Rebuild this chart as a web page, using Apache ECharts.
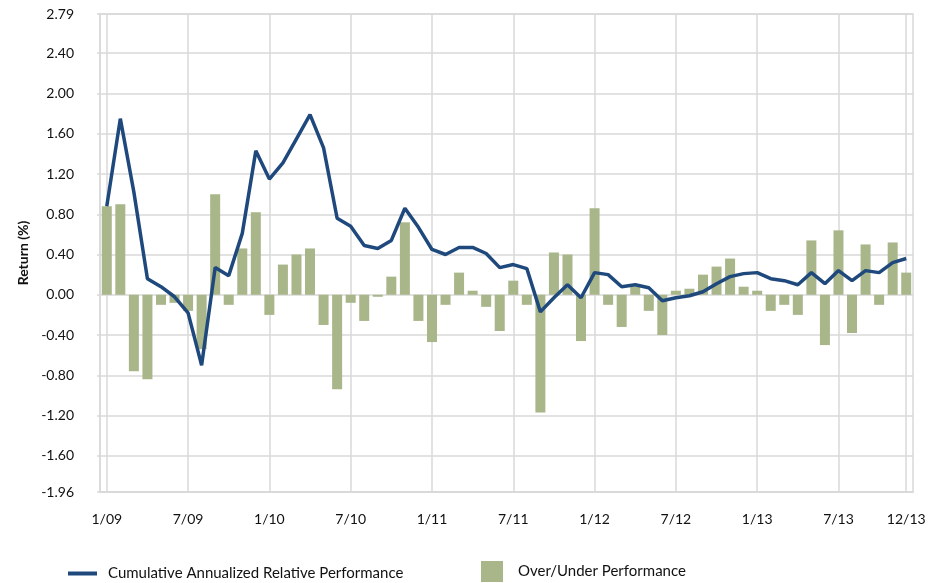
<!DOCTYPE html>
<html>
<head>
<meta charset="utf-8">
<title>Relative Performance</title>
<script src="https://cdn.jsdelivr.net/npm/echarts@6/dist/echarts.min.js"></script>
<style>
  html, body { margin: 0; padding: 0; background: #fff; }
  #chart { width: 947px; height: 583px; }
</style>
</head>
<body>
<div id="chart"></div>
<script>
// months 1/09 .. 12/13
const months = [
  '1/09', '2/09', '3/09', '4/09', '5/09', '6/09', '7/09', '8/09', '9/09', '10/09', '11/09', '12/09',
  '1/10', '2/10', '3/10', '4/10', '5/10', '6/10', '7/10', '8/10', '9/10', '10/10', '11/10', '12/10',
  '1/11', '2/11', '3/11', '4/11', '5/11', '6/11', '7/11', '8/11', '9/11', '10/11', '11/11', '12/11',
  '1/12', '2/12', '3/12', '4/12', '5/12', '6/12', '7/12', '8/12', '9/12', '10/12', '11/12', '12/12',
  '1/13', '2/13', '3/13', '4/13', '5/13', '6/13', '7/13', '8/13', '9/13', '10/13', '11/13', '12/13'
]

const overUnder = [
  0.88, 0.90, -0.76, -0.84, -0.10, -0.08, -0.16, -0.54, 1.00, -0.10, 0.46, 0.82,
  -0.20, 0.30, 0.40, 0.46, -0.30, -0.94, -0.08, -0.26, -0.02, 0.18, 0.72, -0.26,
  -0.47, -0.10, 0.22, 0.04, -0.12, -0.36, 0.14, -0.10, -1.17, 0.42, 0.40, -0.46,
  0.86, -0.10, -0.32, 0.08, -0.16, -0.40, 0.04, 0.06, 0.20, 0.28, 0.36, 0.08,
  0.04, -0.16, -0.10, -0.20, 0.54, -0.50, 0.64, -0.38, 0.50, -0.10, 0.52, 0.22
]

const cumulative = [
  0.88, 1.75, 1.02, 0.16, 0.08, -0.02, -0.18, -0.70, 0.27, 0.19, 0.61, 1.43,
  1.15, 1.31, 1.55, 1.79, 1.46, 0.76, 0.68, 0.49, 0.46, 0.54, 0.86, 0.67,
  0.45, 0.40, 0.47, 0.47, 0.41, 0.27, 0.30, 0.26, -0.17, -0.03, 0.10, -0.03,
  0.22, 0.20, 0.08, 0.10, 0.07, -0.06, -0.03, -0.01, 0.03, 0.11, 0.18, 0.21,
  0.22, 0.16, 0.14, 0.10, 0.22, 0.11, 0.24, 0.14, 0.24, 0.22, 0.32, 0.36
]

const yTicks = [-1.96, -1.6, -1.2, -0.8, -0.4, 0, 0.4, 0.8, 1.2, 1.6, 2.0, 2.4, 2.79]

const lineName = 'Cumulative Annualized Relative Performance'
const barName = 'Over/Under Performance'

const gridColor = '#d9d9d9'
const textColor = '#111'
const fontFamily = 'Lato, "Open Sans", sans-serif'
const showMonth = (i) => i % 6 === 0 || i === months.length - 1

const chart = echarts.init(document.getElementById('chart'), null, { renderer: 'canvas' })

chart.setOption({
  animation: false,
  backgroundColor: '#fff',
  textStyle: { fontFamily },
  grid: {
    left: 100, right: 34, top: 14, bottom: 91,
    show: true, borderColor: gridColor, borderWidth: 1.5
  },
  legend: [
    {
      data: [lineName],
      left: 68, top: 566, padding: 0,
      icon: 'rect', itemWidth: 29, itemHeight: 4,
      textStyle: { fontSize: 15, color: textColor, fontFamily, padding: [0, 0, 0, 6] }
    },
    {
      data: [barName],
      left: 481, top: 561, padding: 0,
      icon: 'rect', itemWidth: 22, itemHeight: 21,
      textStyle: { fontSize: 15, color: textColor, fontFamily, padding: [0, 0, 0, 10] }
    }
  ],
  xAxis: {
    type: 'category',
    data: months,
    boundaryGap: true,
    axisLine: { onZero: false, lineStyle: { color: gridColor, width: 1.5 } },
    axisTick: {
      interval: (i) => showMonth(i), alignWithLabel: true, length: 10,
      lineStyle: { color: gridColor, width: 1.5 }
    },
    axisLabel: {
      interval: (i) => showMonth(i), margin: 20,
      fontSize: 14, color: textColor, fontFamily
    },
    splitLine: {
      show: true, interval: (i) => showMonth(i), alignWithLabel: true,
      lineStyle: { color: gridColor, width: 1.5 }
    }
  },
  yAxis: {
    type: 'value',
    min: -1.96, max: 2.79,
    name: 'Return (%)',
    nameLocation: 'middle',
    nameGap: 67,
    nameTextStyle: { fontSize: 14, fontWeight: 'bold', color: textColor, fontFamily },
    axisLine: { show: true, lineStyle: { color: gridColor, width: 1.5 } },
    axisTick: { show: true, length: 3, customValues: yTicks, lineStyle: { color: gridColor, width: 1.5 } },
    axisLabel: {
      customValues: yTicks, margin: 26,
      fontSize: 14, color: textColor, fontFamily,
      formatter: (v) => v.toFixed(2)
    },
    splitLine: { show: true, lineStyle: { color: gridColor, width: 1.5 } }
  },
  series: [
    {
      name: barName,
      type: 'bar',
      data: overUnder,
      barWidth: 10,
      itemStyle: { color: '#a8b68a' },
      z: 2
    },
    {
      name: lineName,
      type: 'line',
      data: cumulative,
      showSymbol: false,
      symbol: 'none',
      lineStyle: { color: '#1f497d', width: 3.5 },
      itemStyle: { color: '#1f497d' },
      z: 3
    }
  ]
})
</script>
</body>
</html>
